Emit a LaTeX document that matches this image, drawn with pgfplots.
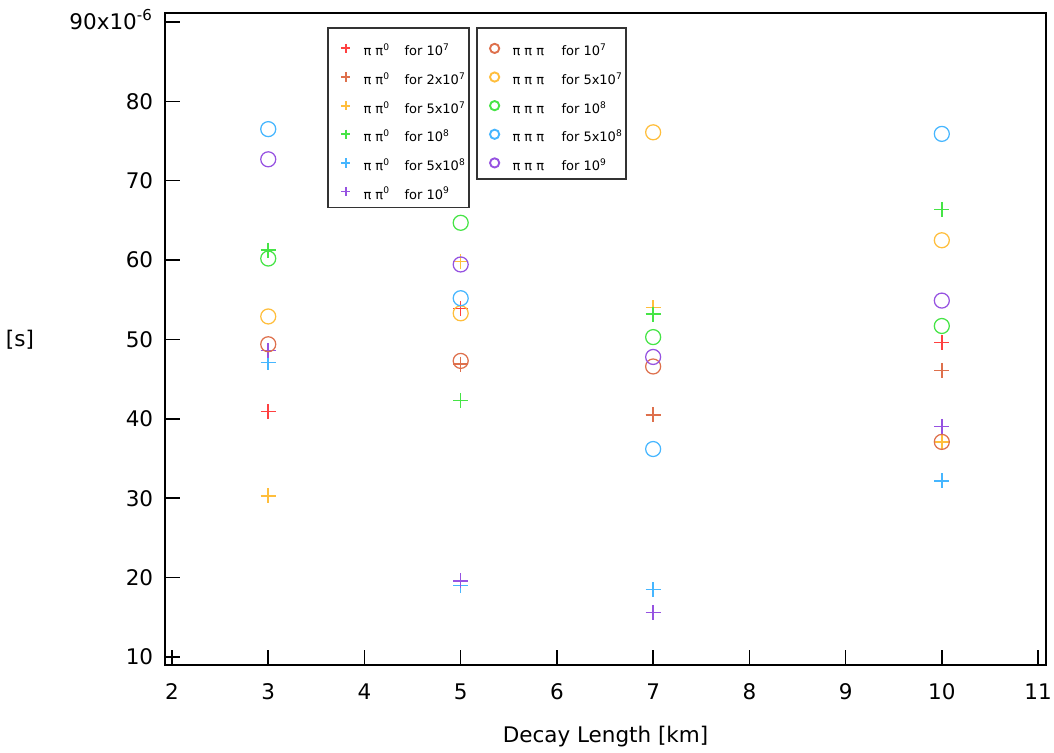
\documentclass[border=0pt]{standalone}
\usepackage{fontspec}
\setmainfont{DejaVu Sans}
\usepackage{pgfplots}
\pgfplotsset{compat=1.18}
\usetikzlibrary{calc}
\definecolor{cRed}{RGB}{255,64,64}
\definecolor{cBrown}{RGB}{222,112,76}
\definecolor{cYellow}{RGB}{255,190,60}
\definecolor{cGreen}{RGB}{70,228,70}
\definecolor{cBlue}{RGB}{70,182,255}
\definecolor{cPurple}{RGB}{150,82,225}

\pgfplotsset{
  base/.style={
    scale only axis, width=352.4pt, height=260.8pt,
    xmin=1.927, xmax=11.083, ymin=8.99, ymax=91.13,
    every axis plot/.append style={only marks},
  },
  lgd/.style={
    legend style={at={(rel axis cs:#1,0.9785)}, anchor=north west,
      draw=black!80, line width=0.6pt, fill=white,
      font=\fontsize{5.2pt}{6pt}\selectfont,
      inner xsep=1.2pt, inner ysep=3.4pt, row sep=3.6pt, column sep=5.3pt,
      nodes={inner sep=0pt, text height=6pt, text depth=0pt}},
    legend cell align=left,
    legend image code/.code={\path[draw=none,fill=none] (-5.95pt,-1.85pt) rectangle (-5.95pt,4.85pt); \draw[##1, mark size=1.85pt, line width=0.75pt] plot coordinates {(0pt,0pt)};},
  },
}

\begin{document}
\begin{tikzpicture}
\begin{axis}[base, name=ax, lgd=0.1839,
  axis line style={line width=0.6pt},
  tick style={line width=0.6pt, black},
  tick align=inside, major tick length=6pt,
  xtick pos=bottom, ytick pos=left,
  xtick={2,...,11},
  ytick={10,20,...,90},
  yticklabels={10,20,30,40,50,60,70,80,{90x10\smash{\textsuperscript{-6}}}},
  ticklabel style={font=\fontsize{8.6pt}{10pt}\selectfont},
  xticklabel style={yshift=-4pt},
  yticklabel style={xshift=-1.2pt},
  /pgf/number format/assume math mode=true,
  xlabel={Decay Length [km]},
  ylabel={[s]},
  label style={font=\fontsize{8.6pt}{10pt}\selectfont},
  xlabel style={at={(axis description cs:0.5,-0.1104)}, anchor=center},
  ylabel style={at={(axis description cs:-0.1646,0.4985)}, rotate=-90, anchor=center},
  every axis plot/.append style={mark=+, mark size=3pt, line width=0.6pt},
]
\addplot[cRed] coordinates {(3,40.9) (5,53.9) (7,40.5) (10,49.6)};
\addlegendentry{\makebox[16.4pt][l]{π π\textsuperscript{0}}for 10\textsuperscript{7}}
\addplot[cBrown] coordinates {(5,46.9) (7,40.5) (10,46.1)};
\addlegendentry{\makebox[16.4pt][l]{π π\textsuperscript{0}}for 2x10\textsuperscript{7}}
\addplot[cYellow] coordinates {(3,30.3) (5,59.8) (7,54.0) (10,37.1)};
\addlegendentry{\makebox[16.4pt][l]{π π\textsuperscript{0}}for 5x10\textsuperscript{7}}
\addplot[cGreen] coordinates {(3,61.25) (5,42.3) (7,53.2) (10,66.4)};
\addlegendentry{\makebox[16.4pt][l]{π π\textsuperscript{0}}for 10\textsuperscript{8}}
\addplot[cBlue] coordinates {(3,47.1) (5,19.0) (7,18.5) (10,32.2)};
\addlegendentry{\makebox[16.4pt][l]{π π\textsuperscript{0}}for 5x10\textsuperscript{8}}
\addplot[cPurple] coordinates {(3,48.6) (5,19.6) (7,15.6) (10,39.05)};
\addlegendentry{\makebox[16.4pt][l]{π π\textsuperscript{0}}for 10\textsuperscript{9}}
\end{axis}

\begin{axis}[base, hide axis, lgd=0.353,
  every axis plot/.append style={mark=o, mark size=3pt, line width=0.5pt},
]
\addplot[cBrown] coordinates {(3,49.4) (5,47.3) (7,46.6) (10,37.1)};
\addlegendentry{\makebox[19.6pt][l]{π π π}for 10\textsuperscript{7}}
\addplot[cYellow] coordinates {(3,52.9) (5,53.3) (7,76.1) (10,62.5)};
\addlegendentry{\makebox[19.6pt][l]{π π π}for 5x10\textsuperscript{7}}
\addplot[cGreen] coordinates {(3,60.2) (5,64.7) (7,50.3) (10,51.7)};
\addlegendentry{\makebox[19.6pt][l]{π π π}for 10\textsuperscript{8}}
\addplot[cBlue] coordinates {(3,76.5) (5,55.2) (7,36.2) (10,75.9)};
\addlegendentry{\makebox[19.6pt][l]{π π π}for 5x10\textsuperscript{8}}
\addplot[cPurple] coordinates {(3,72.7) (5,59.45) (7,47.8) (10,54.9)};
\addlegendentry{\makebox[19.6pt][l]{π π π}for 10\textsuperscript{9}}
\end{axis}
\pgfresetboundingbox
\path ($(ax.south west)+(-66pt,-34.8pt)$) rectangle ($(ax.south west)+(355.6pt,266pt)$);
\end{tikzpicture}
\end{document}
